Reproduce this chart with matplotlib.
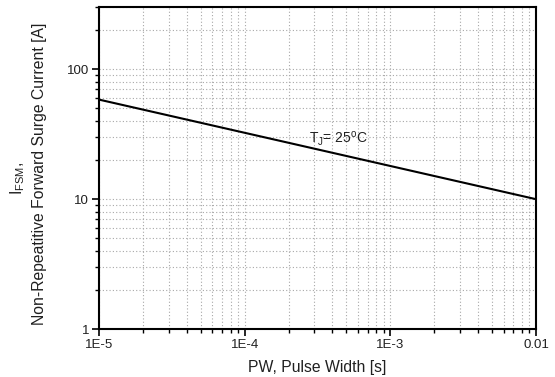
import numpy as np
import matplotlib
matplotlib.use('Agg')
import matplotlib.pyplot as plt
from matplotlib.ticker import LogLocator, FixedLocator, FixedFormatter, NullFormatter

plt.rcParams['font.family'] = ['Liberation Sans', 'DejaVu Sans']
plt.rcParams['mathtext.fontset'] = 'custom'
plt.rcParams['mathtext.rm'] = 'Liberation Sans'

# data
pulse_width = [1e-5, 1e-2]
surge_current = [58.5, 10.0]

x_ticks = [1e-5, 1e-4, 1e-3, 1e-2]
x_tick_labels = ['1E-5', '1E-4', '1E-3', '0.01']
y_ticks = [1, 10, 100]
y_tick_labels = ['1', '10', '100']

fig = plt.figure(figsize=(5.55, 3.77), dpi=100)
ax = fig.add_axes([0.1784, 0.1273, 0.7874, 0.853])

ax.plot(pulse_width, surge_current, color='black', linewidth=1.5)

ax.set_xscale('log')
ax.set_yscale('log')
ax.set_xlim(1e-5, 1e-2)
ax.set_ylim(1, 300)

ax.xaxis.set_major_locator(FixedLocator(x_ticks))
ax.xaxis.set_major_formatter(FixedFormatter(x_tick_labels))
ax.yaxis.set_major_locator(FixedLocator(y_ticks))
ax.yaxis.set_major_formatter(FixedFormatter(y_tick_labels))
ax.xaxis.set_minor_locator(LogLocator(base=10, subs=np.arange(2, 10)))
ax.yaxis.set_minor_locator(LogLocator(base=10, subs=np.arange(2, 10)))
ax.xaxis.set_minor_formatter(NullFormatter())
ax.yaxis.set_minor_formatter(NullFormatter())

ax.grid(True, which='both', linestyle=(0, (1, 2)), color='#a8a8a8', linewidth=0.8)
ax.tick_params(which='major', direction='out', length=5, width=1.2,
               labelsize=9.5, pad=2, labelcolor='#202020')
ax.tick_params(which='minor', direction='out', length=3, width=1.0)
for sp in ax.spines.values():
    sp.set_linewidth(1.5)

ax.text(2.75e-4, 29.0, r'T$_{\mathregular{J}}$= 25$^{\mathregular{o}}$C',
        fontsize=10, ha='left', va='center', color='#202020')

ax.set_xlabel('PW, Pulse Width [s]', fontsize=11.3, labelpad=7, color='#202020')
fig.text(18 / 555, 1 - 178 / 377, r'I$_{\mathregular{FSM}}$,', rotation=90,
         fontsize=11.3, ha='center', va='center', color='#202020')
fig.text(40 / 555, 1 - 174 / 377, 'Non-Repeatitive Forward Surge Current [A]',
         rotation=90, fontsize=11.3, ha='center', va='center', color='#202020')

fig.savefig('out.png', dpi=100)
